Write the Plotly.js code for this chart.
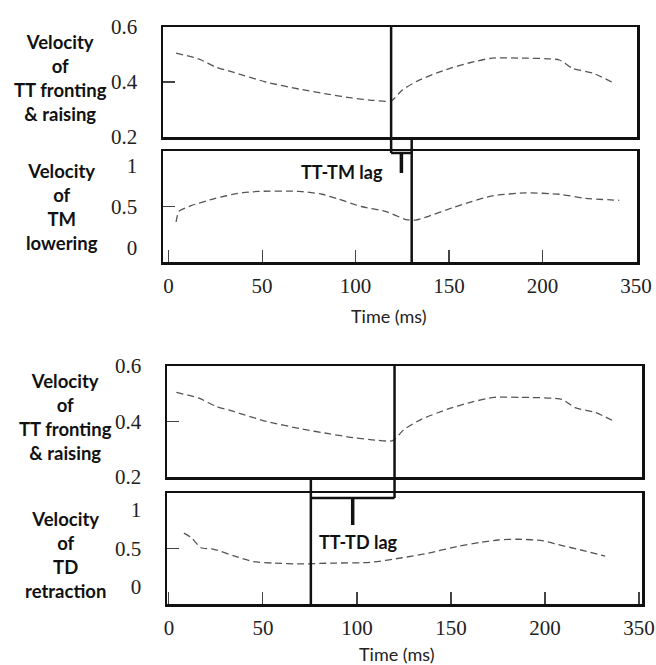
<!DOCTYPE html>
<html>
<head>
<meta charset="utf-8">
<script src="https://cdn.plot.ly/plotly-3.0.1.min.js"></script>
<style>html,body{margin:0;padding:0;background:#fff;}#chart{width:656px;height:665px;}</style>
</head>
<body>
<div id="chart"></div>
<script>
// ---- data ----
var ttTime = [4, 16, 25, 34, 52, 70, 85, 98, 110, 119, 125, 134, 148, 161, 173, 187, 209, 216, 227, 237];
var ttVel  = [0.505, 0.484, 0.455, 0.437, 0.40, 0.374, 0.356, 0.342, 0.333, 0.331, 0.371, 0.407, 0.444, 0.47, 0.487, 0.487, 0.48, 0.45, 0.432, 0.40];

var tmTime = [4, 5.5, 12, 25, 37, 48, 70, 82, 91, 103, 116, 127, 132, 139, 152, 162, 173, 191, 209, 223, 241];
var tmVel  = [0.31, 0.44, 0.51, 0.60, 0.66, 0.685, 0.685, 0.65, 0.59, 0.50, 0.44, 0.34, 0.333, 0.38, 0.486, 0.56, 0.63, 0.667, 0.65, 0.60, 0.576];

var tdTime = [8, 12, 17, 24, 35, 45, 56, 70, 86, 107, 124, 138, 154, 166, 175, 186, 199, 207, 221, 232];
var tdVel  = [0.70, 0.64, 0.51, 0.49, 0.40, 0.33, 0.31, 0.30, 0.31, 0.32, 0.38, 0.44, 0.53, 0.58, 0.61, 0.62, 0.60, 0.55, 0.47, 0.40];

var xTickVals = [0, 50, 100, 150, 200, 250];
var xTickText = ["0", "50", "100", "150", "200", "350"];
var ttTicks = [0.2, 0.4, 0.6];
var ttTickText = ["0.2", "0.4", "0.6"];
var ttMinorTicks = [0.4];
var tmTicks = [0, 0.5, 1];
var tmTickText = ["0", "0.5", "1"];
var tmMinorTicks = [0.5];

var ttPeakTop = 119, tmOnset = 130;    // TT-TM lag
var ttPeakBot = 120, tdOnset = 75.5;   // TT-TD lag

var panelLabels = [
  "Velocity<br>of<br>TT fronting<br>& raising",
  "Velocity<br>of<br>TM<br>lowering",
  "Velocity<br>of<br>TT fronting<br>& raising",
  "Velocity<br>of<br>TD<br>retraction"
];
var lagLabels = ["TT-TM lag", "TT-TD lag"];
var xTitle = "Time (ms)";

// ---- helpers ----
var W = 656, H = 665;
function py(p) { return 1 - p / H; }
function px(p) { return p / W; }

var SERIF = 'Liberation Serif';
var SANS = 'Lato';
function serifText(arr) {
  return arr.map(function(s){ return '<span style="font-family:Liberation Serif">' + s + '</span>'; });
}

var traces = [
  {x: ttTime, y: ttVel, xaxis: 'x', yaxis: 'y'},
  {x: tmTime, y: tmVel, xaxis: 'x2', yaxis: 'y2'},
  {x: ttTime, y: ttVel, xaxis: 'x3', yaxis: 'y3'},
  {x: tdTime, y: tdVel, xaxis: 'x4', yaxis: 'y4'}
];
traces.forEach(function(t){
  t.mode = 'lines'; t.hoverinfo = 'skip'; t.showlegend = false;
  t.line = {color: '#555', width: 1.3, dash: '7px,4px', shape: 'spline', smoothing: 0.6};
});

function xAxis(domain, range, anchor, showLabels) {
  return {
    domain: domain, range: range, anchor: anchor,
    showline: true, mirror: true, linecolor: '#111', linewidth: 2.5,
    showgrid: false, zeroline: false,
    tickmode: 'array', tickvals: xTickVals, ticktext: serifText(xTickText),
    ticks: showLabels ? 'inside' : '', ticklen: 12, tickwidth: 1.2, tickcolor: '#444',
    showticklabels: showLabels, tickfont: {family: SERIF, size: 21, color: '#222'}, ticklabelstandoff: 3,
    ticklabeloverflow: 'allow', fixedrange: true
  };
}
function yAxis(domain, range, anchor, vals, text, minorVals) {
  return {
    domain: domain, range: range, anchor: anchor,
    showline: true, mirror: true, linecolor: '#111', linewidth: 2.5,
    showgrid: false, zeroline: false,
    tickmode: 'array', tickvals: vals, ticktext: serifText(text), ticks: '',
    minor: {tickmode: 'array', tickvals: minorVals, ticks: 'inside', ticklen: 12, tickwidth: 1.2, tickcolor: '#444', showgrid: false},
    tickfont: {family: SERIF, size: 21, color: '#222'}, ticklabelstandoff: 19, fixedrange: true
  };
}

var d1 = [py(137), py(27)], d2 = [py(262), py(151)], d3 = [py(477), py(366)], d4 = [py(604), py(493)];
var xd1 = [px(163), px(637)], xd2 = [px(167), px(642)];

var layout = {
  width: W, height: H, margin: {l: 0, r: 0, t: 0, b: 0},
  paper_bgcolor: '#fff', plot_bgcolor: '#fff', showlegend: false,
  font: {family: SERIF, color: '#222'},
  xaxis: xAxis(xd1, [-3, 250.5], 'y', false),
  xaxis2: xAxis(xd1, [-3, 250.5], 'y2', true),
  xaxis3: xAxis(xd2, [-1, 251.6], 'y3', false),
  xaxis4: xAxis(xd2, [-1, 251.6], 'y4', true),
  yaxis: yAxis(d1, [0.2, 0.6], 'x', ttTicks, ttTickText, ttMinorTicks),
  yaxis2: yAxis(d2, [-0.18, 1.18], 'x2', tmTicks, tmTickText, tmMinorTicks),
  yaxis3: yAxis(d3, [0.2, 0.6], 'x3', ttTicks, ttTickText, ttMinorTicks),
  yaxis4: yAxis(d4, [-0.22, 1.22], 'x4', tmTicks, tmTickText, tmMinorTicks),
  shapes: [],
  annotations: []
};

var blk = {color: '#111', width: 2.5};
var stem = {color: '#111', width: 3.5};
// TT-TM lag bracket
layout.shapes.push(
  {type: 'line', xref: 'x', yref: 'paper', x0: ttPeakTop, x1: ttPeakTop, y0: d1[1], y1: py(153), line: blk},
  {type: 'line', xref: 'x', yref: 'paper', x0: ttPeakTop, x1: tmOnset, y0: py(153), y1: py(153), line: blk},
  {type: 'line', xref: 'x2', yref: 'paper', x0: tmOnset, x1: tmOnset, y0: d1[0], y1: d2[0], line: blk},
  {type: 'line', xref: 'x', yref: 'paper', x0: (ttPeakTop + tmOnset) / 2, x1: (ttPeakTop + tmOnset) / 2, y0: py(153), y1: py(173), line: stem}
);
// TT-TD lag bracket
layout.shapes.push(
  {type: 'line', xref: 'x3', yref: 'paper', x0: ttPeakBot, x1: ttPeakBot, y0: d3[1], y1: py(498), line: blk},
  {type: 'line', xref: 'x3', yref: 'paper', x0: tdOnset, x1: ttPeakBot, y0: py(498), y1: py(498), line: blk},
  {type: 'line', xref: 'x3', yref: 'paper', x0: tdOnset, x1: tdOnset, y0: d3[0], y1: d4[0], line: blk},
  {type: 'line', xref: 'x3', yref: 'paper', x0: (tdOnset + ttPeakBot) / 2, x1: (tdOnset + ttPeakBot) / 2, y0: py(498), y1: py(525), line: stem}
);

var labelPos = [[60, 78], [62, 207], [65, 417], [65, 555]];
panelLabels.forEach(function(t, i) {
  layout.annotations.push({text: '<b>' + t + '</b>', xref: 'paper', yref: 'paper',
    x: px(labelPos[i][0]), y: py(labelPos[i][1]), xanchor: 'center', yanchor: 'middle',
    showarrow: false, align: 'center', font: {family: SANS, size: 18.5, color: '#111'}});
});
layout.annotations.push(
  {text: '<b>' + lagLabels[0] + '</b>', xref: 'paper', yref: 'paper', x: px(342), y: py(172), xanchor: 'center', yanchor: 'middle', showarrow: false, font: {family: SANS, size: 18, color: '#111'}},
  {text: '<b>' + lagLabels[1] + '</b>', xref: 'paper', yref: 'paper', x: px(358), y: py(542), xanchor: 'center', yanchor: 'middle', showarrow: false, font: {family: SANS, size: 18, color: '#111'}},
  {text: xTitle, xref: 'paper', yref: 'paper', x: px(388), y: py(316), xanchor: 'center', yanchor: 'middle', showarrow: false, font: {family: SANS, size: 18, color: '#222'}},
  {text: xTitle, xref: 'paper', yref: 'paper', x: px(396), y: py(654), xanchor: 'center', yanchor: 'middle', showarrow: false, font: {family: SANS, size: 18, color: '#222'}}
);

Plotly.newPlot('chart', traces, layout, {displayModeBar: false, staticPlot: true});
</script>
</body>
</html>
